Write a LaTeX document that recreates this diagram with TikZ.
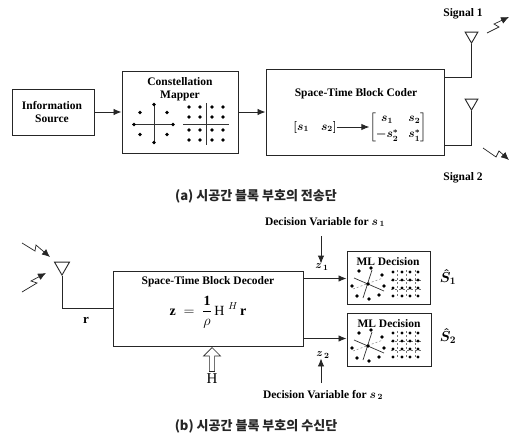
\documentclass[tikz,border=0pt]{standalone}
\usepackage{fontspec}
\usepackage{amsmath}
\setmainfont{Liberation Serif}
\newfontfamily\krfont{Noto Sans CJK KR}
\usetikzlibrary{arrows.meta,shapes.geometric,shapes.arrows}
\tikzset{
  x=1pt,y=-1pt,
  blockbox/.style={draw=black!85,line width=1pt,fill=white,inner sep=0pt},
  lbl/.style={font=\bfseries\boldmath\fontsize{11.5}{13.5}\selectfont,align=center,inner sep=0pt,text=black},
  captxt/.style={font=\krfont\bfseries\fontsize{13}{15}\selectfont,inner sep=0pt,text=black!85},
  wire/.style={draw=black!85,line width=0.9pt},
  arrowline/.style={wire,-{Latex[length=8pt,width=6.5pt]}},
  aerial/.style={draw=black!85,line width=0.9pt,fill=white},
  bolt/.style={draw=black!85,line width=0.7pt,-{Latex[length=8pt,width=7pt]}},
  axisline/.style={draw=black!80,line width=0.7pt},
  faint/.style={draw=black!55,line width=0.4pt,dash pattern=on 2pt off 2pt},
  pics/psksmall/.style={code={
    \draw[axisline,line width=0.9pt] (-22,0) -- (20,0);
    \draw[axisline] (0,-21) -- (0,19);
    \foreach \p in {(0,-20),(0,18),(-20,0),(19,0),(-14,-12),(13,-12),(-14,10),(13,10)}
      \fill \p circle[radius=1.9];
  }},
  pics/qamsmall/.style={code={
    \draw[axisline] (-23,0) -- (23,0);
    \draw[axisline,line width=0.4pt] (0,-21) -- (0,21);
    \foreach \u in {-17,-6,6,17} \foreach \v in {-17,-7,6,16}
      \fill (\u,\v) circle[radius=1.9];
  }},
  pics/pskdense/.style={code={
    \draw[axisline] (-14,-6) -- (16,7);
    \draw[axisline] (-5,14) -- (4,-14);
    \draw[faint] (-15,5) -- (15,-6);
    \foreach \p in {(-9,-13),(3,-16),(14,-9),(-16,2),(16,2),(-11,12),(1,15),(11,11),(0,0)}
      \fill \p circle[radius=1.8];
  }},
  pics/qamdense/.style={code={
    \draw[faint] (-15,-4) -- (15,-4);
    \draw[faint] (-15,5) -- (15,5);
    \draw[faint] (0,-14) -- (0,14);
    \draw[faint] (-9,-14) -- (-9,14);
    \draw[faint] (9,-14) -- (9,14);
    \foreach \u in {-13,-4,4,12} \foreach \v in {-12,-4,4,12}
      \fill (\u,\v) circle[radius=1.6];
  }},
}
\begin{document}
\begin{tikzpicture}
\useasboundingbox[fill=white] (0,0) rectangle (510,436);

% ---- transmitter ----
\node[blockbox,minimum width=82pt,minimum height=46pt] (src) at (53,112) {};
\node[lbl] (srclabel) at (52,112) {Information\\Source};
\node[blockbox,minimum width=116pt,minimum height=82pt] (mapper) at (180,112) {};
\node[lbl] (maplabel) at (180,89) {Constellation\\Mapper};
\pic at (154,124.5) {psksmall};
\pic at (206,124) {qamsmall};
\node[blockbox,minimum width=178pt,minimum height=86pt] (coder) at (355,112) {};
\node[lbl] (coderlabel) at (356,94) {Space-Time Block Coder};

\draw[arrowline] (src.east) -- (mapper.west);
\draw[arrowline] (mapper.east) -- (coder.west);

\node[inner sep=0pt,font=\bfseries\boldmath\fontsize{12}{14}\selectfont] (rowvec) at (315,127) {$\left[s_1\quad s_2\right]$};
\node[inner sep=0pt,font=\boldmath\fontsize{12}{14}\selectfont] (matrix) at (398,127)
  {$\left[\begin{matrix} s_1 & s_2\\[2pt] -s_2^{*} & s_1^{*}\end{matrix}\right]$};
\draw[arrowline] (rowvec.east) -- (matrix.west |- rowvec.east);

\node[isosceles triangle,isosceles triangle apex angle=60,shape border rotate=-90,aerial,minimum height=11pt,inner sep=0pt,anchor=apex] (ant1) at (471.5,44) {};
\node[isosceles triangle,isosceles triangle apex angle=60,shape border rotate=-90,aerial,minimum height=11pt,inner sep=0pt,anchor=apex] (ant2) at (471.5,111) {};
\coordinate (c1) at (444,77);
\coordinate (c2) at (444,145);
\draw[wire] (ant1.apex) |- (c1);
\draw[wire] (ant2.apex) |- (c2);
\node[lbl] (sig1) at (463,14) {Signal 1};
\node[lbl] (sig2) at (463,178) {Signal 2};
\coordinate (b1s) at (487,33);
\coordinate (b1e) at (509,17);
\coordinate (b2s) at (483,148);
\coordinate (b2e) at (509,160);
\draw[bolt] (b1s) -- (499,27) -- (494,24) -- (b1e);
\draw[bolt] (b2s) -- (496,157) -- (499,151) -- (b2e);
\node[captxt] (capa) at (256,196) {(a) 시공간 블록 부호의 전송단};

% ---- receiver ----
\node[isosceles triangle,isosceles triangle apex angle=60,shape border rotate=-90,aerial,minimum height=13pt,inner sep=0pt,anchor=apex] (ant3) at (62,276) {};
\node[blockbox,minimum width=190pt,minimum height=75pt] (dec) at (208,308.5) {};
\draw[wire] (ant3.apex) |- (dec.west);
\node[lbl,font=\bfseries\fontsize{13}{15}\selectfont] (r) at (86,320) {r};
\coordinate (b3s) at (22,243);
\coordinate (b3e) at (50,257);
\coordinate (b4s) at (22,292);
\coordinate (b4e) at (46,273);
\draw[bolt] (b3s) -- (35,251) -- (36,245) -- (b3e);
\draw[bolt] (b4s) -- (37,283) -- (31,281) -- (b4e);
\node[lbl] (declabel) at (208,282) {Space-Time Block Decoder};
\node[inner sep=0pt,font=\fontsize{14}{16}\selectfont] (formula) at (208,312)
  {\textbf{z}\;\;$=$\;\;$\dfrac{\mathbf{1}}{\rho}$\,H\;$^{H}$\,\textbf{r}};
\node[single arrow,draw=black!85,line width=0.7pt,fill=white,shape border rotate=90,minimum height=24pt,minimum width=17pt,single arrow head extend=3pt,single arrow tip angle=90,inner sep=1pt,anchor=tip] (harrow) at (212,347) {};
\node[inner sep=0pt,font=\fontsize{15}{17}\selectfont] (hlabel) at (212,379) {H};

\node[blockbox,minimum width=83pt,minimum height=53pt] (ml1) at (388.5,277.5) {};
\node[blockbox,minimum width=84pt,minimum height=53pt] (ml2) at (389,339.5) {};
\node[lbl] (ml1label) at (388,262) {ML Decision};
\node[lbl] (ml2label) at (389,324) {ML Decision};
\pic at (368,284) {pskdense};
\pic at (406,284) {qamdense};
\pic at (368,346) {pskdense};
\pic at (406,345) {qamdense};
\coordinate (o1) at (303,278.5);
\coordinate (o2) at (303,338.5);
\draw[arrowline] (o1) -- (ml1.west |- o1);
\draw[arrowline] (o2) -- (ml2.west |- o2);

\node[lbl] (dv1) at (325,222) {Decision Variable for $s_{\,1}$};
\node[lbl] (dv2) at (323,395) {Decision Variable for $s_{\,2}$};
\node[inner sep=0pt,font=\boldmath\fontsize{11}{13}\selectfont] (z1) at (322,267) {$z_{\,1}$};
\node[inner sep=0pt,font=\boldmath\fontsize{11}{13}\selectfont] (z2) at (323,355) {$z_{\,2}$};
\coordinate (t1) at (321,236);
\coordinate (t2) at (321,383);
\draw[arrowline] (t1) -- (z1.north -| t1);
\draw[arrowline] (t2) -- (z2.south -| t2);
\node[inner sep=0pt,font=\boldmath\fontsize{14}{16}\selectfont] (sh1) at (448,277) {$\hat{S}_1$};
\node[inner sep=0pt,font=\boldmath\fontsize{14}{16}\selectfont] (sh2) at (448,336) {$\hat{S}_2$};
\node[captxt] (capb) at (256,426) {(b) 시공간 블록 부호의 수신단};
\end{tikzpicture}
\end{document}
